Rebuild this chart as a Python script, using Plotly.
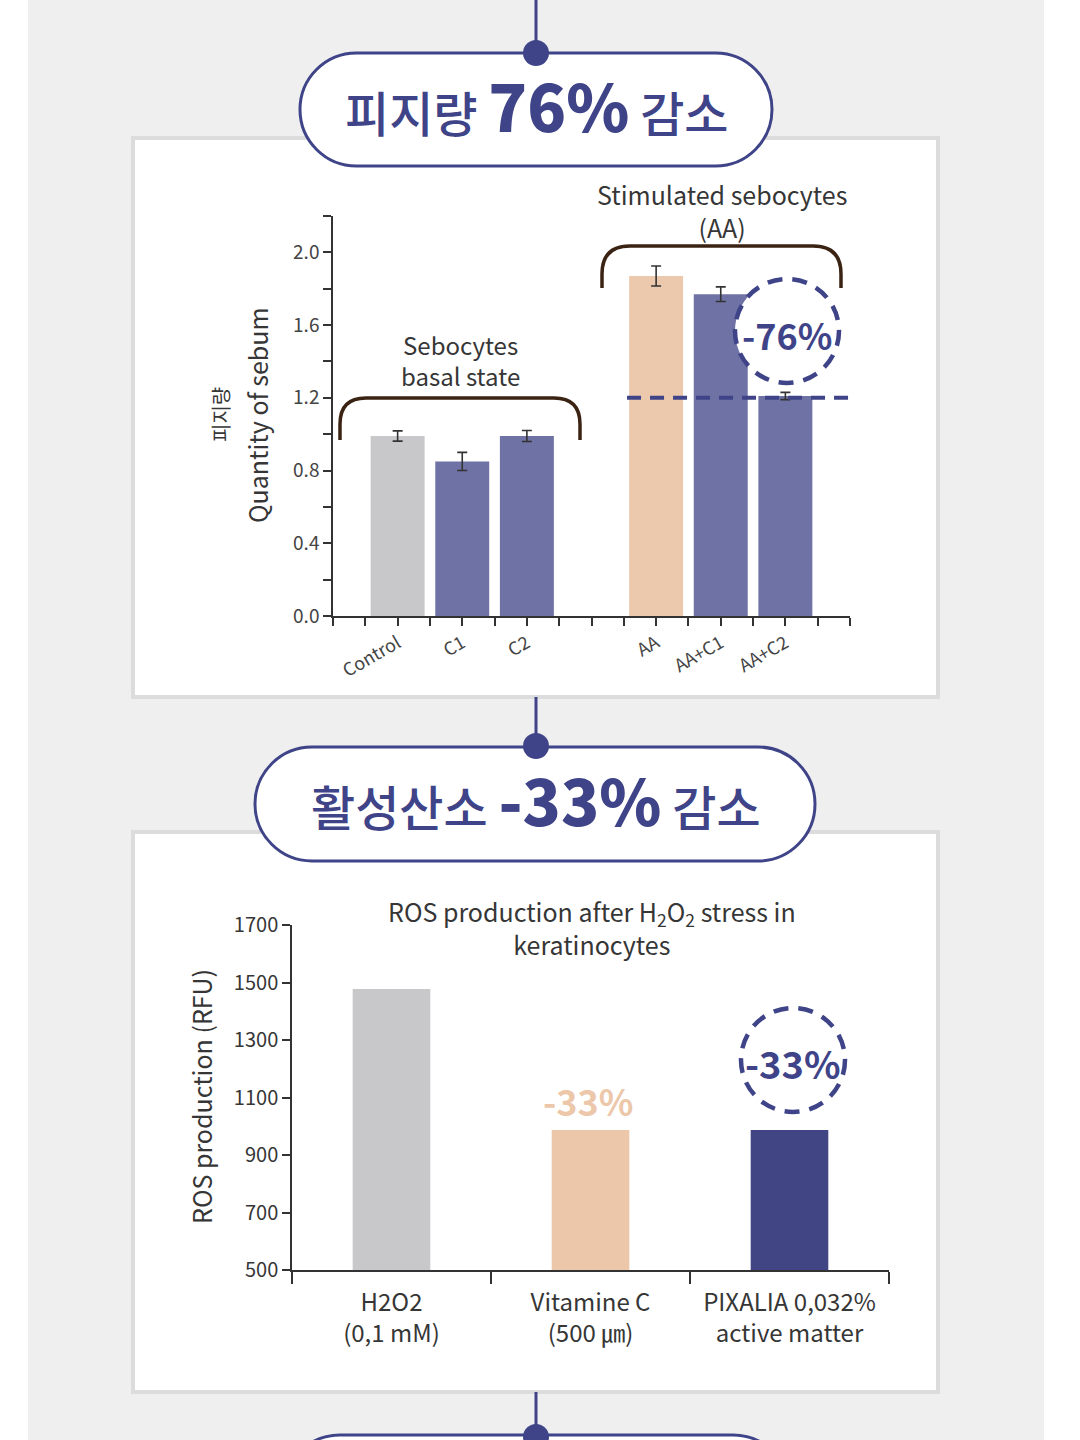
import plotly.graph_objects as go

W, H = 1080, 1440

# ---------------- data ----------------
sebum_categories = ["Control", "C1", "C2", "AA", "AA+C1", "AA+C2"]
sebum_positions = [2, 4, 6, 10, 12, 14]
sebum_minor_positions = [0, 1, 3, 5, 7, 8, 9, 11, 13, 15, 16]
sebum_values = [0.99, 0.85, 0.99, 1.87, 1.77, 1.21]
sebum_errors = [0.028, 0.05, 0.03, 0.055, 0.04, 0.02]
sebum_colors = ["#c8c8ca", "#6f72a4", "#6f72a4", "#ecc8ac", "#6f72a4", "#6f72a4"]
sebum_yticks = [0.0, 0.4, 0.8, 1.2, 1.6, 2.0]
sebum_ylabels = ["0.0", "0.4", "0.8", "1.2", "1.6", "2.0"]
sebum_minor_yticks = [0.2, 0.6, 1.0, 1.4, 1.8, 2.2]
sebum_reference_level = 1.2

ros_categories = ["H2O2<br>(0,1 mM)", "Vitamine C<br>(500 ㎛)", "PIXALIA 0,032%<br>active matter"]
ros_values = [1477, 987, 987]
ros_colors = ["#c8c8ca", "#ecc7aa", "#414584"]
ros_yticks = [500, 700, 900, 1100, 1300, 1500, 1700]

NAVY = "#3f4488"
TXT = "#363636"
BROWN = "#3b2314"
FONT = "Noto Sans CJK KR"


def X(px):
    return px / W


def Y(py):
    return 1 - py / H


def P(x, y):
    return f"{X(x):.5f},{Y(y):.5f}"


def pill_path(x0, y0, x1, y1):
    r = (y1 - y0) / 2
    k = 0.5523 * r
    cy = y0 + r
    return (f"M {P(x0 + r, y0)} L {P(x1 - r, y0)} "
            f"C {P(x1 - r + k, y0)} {P(x1, cy - k)} {P(x1, cy)} "
            f"C {P(x1, cy + k)} {P(x1 - r + k, y1)} {P(x1 - r, y1)} "
            f"L {P(x0 + r, y1)} "
            f"C {P(x0 + r - k, y1)} {P(x0, cy + k)} {P(x0, cy)} "
            f"C {P(x0, cy - k)} {P(x0 + r - k, y0)} {P(x0 + r, y0)} Z")


def bracket_path(x0, x1, ytop, ybot, r):
    return (f"M {P(x0, ybot)} L {P(x0, ytop + r)} Q {P(x0, ytop)} {P(x0 + r, ytop)} "
            f"L {P(x1 - r, ytop)} Q {P(x1, ytop)} {P(x1, ytop + r)} L {P(x1, ybot)}")


fig = go.Figure()

fig.add_trace(go.Bar(
    x=sebum_positions, y=sebum_values, width=1.67,
    marker=dict(color=sebum_colors, line=dict(width=0)),
    error_y=dict(type="data", array=sebum_errors, color="#333333", thickness=1.6, width=5),
    xaxis="x", yaxis="y", showlegend=False, hoverinfo="skip",
))

fig.add_trace(go.Bar(
    x=ros_categories, y=ros_values, width=0.39,
    marker=dict(color=ros_colors, line=dict(width=0)),
    xaxis="x2", yaxis="y2", showlegend=False, hoverinfo="skip",
))

shapes = []
# page background
shapes.append(dict(type="rect", xref="paper", yref="paper", x0=X(28), x1=X(1044), y0=0, y1=1,
                   fillcolor="#efefef", line=dict(width=0), layer="below"))
# white boxes
for (y0, y1) in [(138, 697), (832, 1392)]:
    shapes.append(dict(type="rect", xref="paper", yref="paper", x0=X(133), x1=X(938), y0=Y(y1), y1=Y(y0),
                       fillcolor="#ffffff", line=dict(color="#dcdcdc", width=4), layer="below"))
# connectors
for (y0, y1) in [(0, 53), (697, 746), (1392, 1440)]:
    shapes.append(dict(type="line", xref="paper", yref="paper", x0=X(536), x1=X(536), y0=Y(y0), y1=Y(y1),
                       line=dict(color=NAVY, width=3), layer="above"))
# pills
for (x0, y0, x1, y1) in [(300, 53, 772, 166), (255, 747, 815, 861), (283, 1435, 790, 1549)]:
    shapes.append(dict(type="path", xref="paper", yref="paper", path=pill_path(x0, y0, x1, y1),
                       fillcolor="#ffffff", line=dict(color=NAVY, width=3), layer="above"))
# dots
for (cx, cy, r) in [(536, 53, 13), (536, 746, 13), (536, 1437, 13)]:
    shapes.append(dict(type="circle", xref="paper", yref="paper", x0=X(cx - r), x1=X(cx + r),
                       y0=Y(cy + r), y1=Y(cy - r), fillcolor=NAVY, line=dict(width=0), layer="above"))
# brackets
shapes.append(dict(type="path", xref="paper", yref="paper", path=bracket_path(340, 580, 398, 440, 26),
                   line=dict(color=BROWN, width=3.5), layer="above"))
shapes.append(dict(type="path", xref="paper", yref="paper", path=bracket_path(602, 841, 246, 288, 28),
                   line=dict(color=BROWN, width=3.5), layer="above"))
# dashed reference line
shapes.append(dict(type="line", xref="x", yref="y", x0=9.1, x1=16.1, y0=sebum_reference_level,
                   y1=sebum_reference_level, line=dict(color=NAVY, width=4, dash="14px,9px"), layer="above"))
# dashed circles
for (cx, cy, r) in [(787, 331, 52), (793, 1060, 52)]:
    shapes.append(dict(type="circle", xref="paper", yref="paper", x0=X(cx - r), x1=X(cx + r),
                       y0=Y(cy + r), y1=Y(cy - r), fillcolor="#ffffff",
                       line=dict(color=NAVY, width=4.5, dash="15px,10px"), layer="above"))

annotations = []


def ann(x, y, text, size, color=TXT, angle=0, weight=None, xanchor="center"):
    f = dict(family=FONT, size=size, color=color)
    if weight:
        f["weight"] = weight
    annotations.append(dict(xref="paper", yref="paper", x=X(x), y=Y(y), text=text, showarrow=False,
                            font=f, textangle=angle, xanchor=xanchor, yanchor="middle"))


ann(536, 104, "피지량 <span style='font-size:64px;font-weight:900'>76%</span> 감소", 48, NAVY, weight=500)
ann(536, 798, "활성산소 <span style='font-size:63px;font-weight:900'>-33%</span> 감소", 48, NAVY, weight=500)
ann(460, 360, "Sebocytes<br>basal state", 24)
ann(722, 210, "Stimulated sebocytes<br>(AA)", 25)
ann(787, 334, "<b>-76%</b>", 36, NAVY)
ann(257, 415, "Quantity of sebum", 25, angle=-90)
ann(221, 415, "피지량", 20, angle=-90)
ann(592, 927, "ROS production after H<sub>2</sub>O<sub>2</sub> stress in<br>keratinocytes", 25)
ann(588, 1100, "<b>-33%</b>", 36, "#ecc7aa")
ann(793, 1062, "<b>-33%</b>", 38, NAVY)
ann(201, 1097, "ROS production (RFU)", 25, angle=-90)

axis_common = dict(showgrid=False, zeroline=False, showline=True, linecolor="#333333", linewidth=1.5,
                   ticks="outside", tickcolor="#333333", tickwidth=1.5, automargin=False,
                   fixedrange=True)

fig.update_layout(
    width=W, height=H,
    margin=dict(l=0, r=0, t=0, b=0, pad=0, autoexpand=False),
    paper_bgcolor="#ffffff",
    plot_bgcolor="rgba(0,0,0,0)",
    showlegend=False,
    shapes=shapes,
    annotations=annotations,
    xaxis=dict(domain=[X(333), X(850)], range=[0, 16], tickmode="array", tickvals=sebum_positions,
               ticktext=sebum_categories, ticklen=8, tickangle=-30,
               tickfont=dict(family=FONT, size=18, color="#444444"),
               minor=dict(tickmode="array", tickvals=sebum_minor_positions, ticks="outside", ticklen=8,
                          tickwidth=1.5, tickcolor="#333333", showgrid=False),
               anchor="y", **axis_common),
    yaxis=dict(domain=[Y(616), Y(216)], range=[0, 2.2], tickmode="array", tickvals=sebum_yticks,
               ticktext=sebum_ylabels, ticklen=8, tickfont=dict(family=FONT, size=19, color="#444444"),
               minor=dict(tickmode="array", tickvals=sebum_minor_yticks, ticks="outside", ticklen=8,
                          tickwidth=1.5, tickcolor="#333333", showgrid=False),
               anchor="x", **axis_common),
    xaxis2=dict(domain=[X(292), X(889)], type="category", range=[-0.5, 2.5], tickson="boundaries",
                ticklen=12, tickfont=dict(family=FONT, size=24, color=TXT), ticklabelstandoff=10,
                anchor="y2", **axis_common),
    yaxis2=dict(domain=[Y(1270), Y(925)], range=[500, 1700], tickvals=ros_yticks, ticklen=8,
                tickfont=dict(family=FONT, size=20, color=TXT), anchor="x2", **axis_common),
)

fig.write_html("out.html")
